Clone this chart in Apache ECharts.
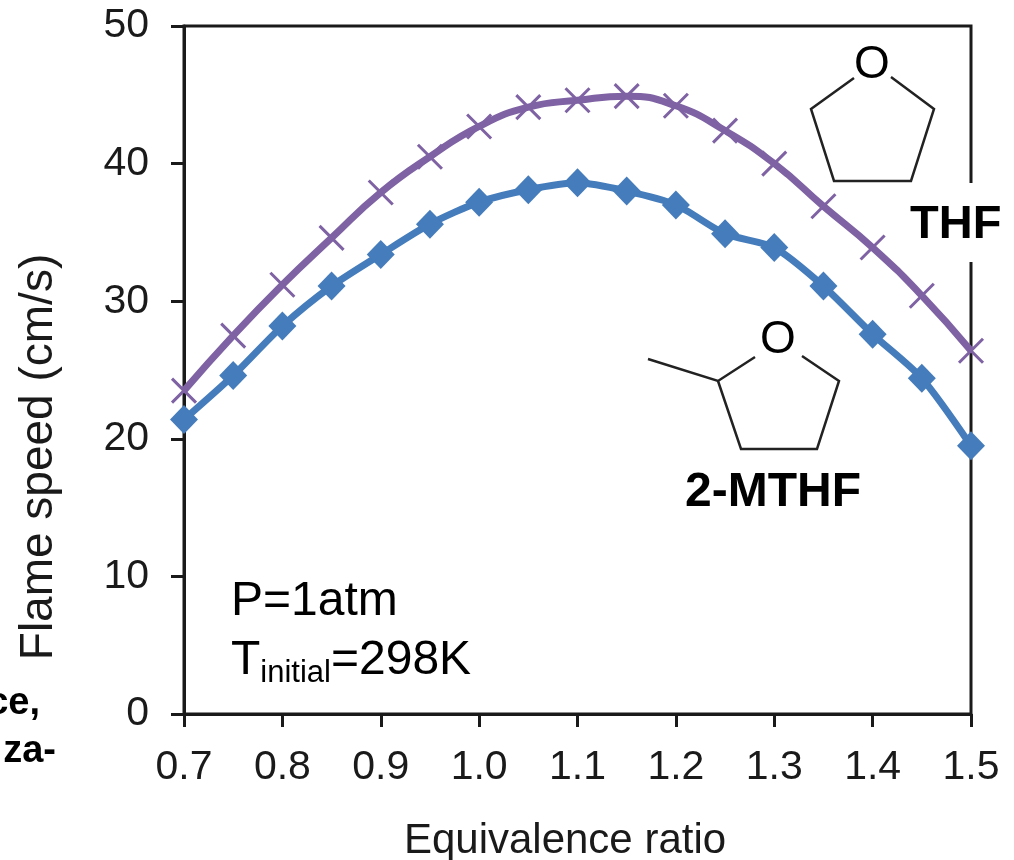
<!DOCTYPE html>
<html><head><meta charset="utf-8">
<style>html,body{margin:0;padding:0;background:#fff}#c{width:1014px;height:860px}</style>
<script src="https://cdn.jsdelivr.net/npm/echarts@6/dist/echarts.min.js"></script>
</head><body><div id="c"></div>
<script>
const phi=[0.7,0.75,0.8,0.85,0.9,0.95,1.0,1.05,1.1,1.15,1.2,1.25,1.3,1.35,1.4,1.45,1.5];
const mthf=[21.4,24.6,28.2,31.1,33.4,35.6,37.2,38.1,38.6,38.0,37.0,34.9,33.9,31.1,27.6,24.4,19.5];
const thf=[23.5,27.5,31.2,34.6,37.9,40.5,42.7,44.1,44.6,44.9,44.2,42.4,40.0,36.9,33.9,30.4,26.4];
const FONT='"Liberation Sans",Arial,sans-serif';
const INK='#1a1a1a';
const zip=(xs,ys)=>xs.map((x,i)=>[x,ys[i]]);
function bond(points){return {type:'polyline',z:5,shape:{points},style:{fill:null,stroke:'#222',lineWidth:2.5,lineJoin:'miter'}};}
function txt(x,y,text,size,weight,extra){return {type:'text',z:20,x,y,style:Object.assign({text,font:(weight||'normal')+' '+size+'px '+FONT,fill:'#000',textVerticalAlign:'middle'},extra||{})};}
const chart=echarts.init(document.getElementById('c'),null,{renderer:'canvas'});
chart.setOption({
 animation:false,backgroundColor:'#fff',
 grid:{left:184,right:43,top:26,height:688,show:true,borderColor:INK,borderWidth:3,backgroundColor:'transparent',outerBoundsMode:'none'},
 xAxis:{type:'value',min:0.7,max:1.5,interval:0.1,
  name:'Equivalence ratio',nameLocation:'middle',nameGap:106,
  nameTextStyle:{fontFamily:FONT,fontSize:42,color:INK,padding:[0,25,0,0]},
  axisLine:{onZero:false,lineStyle:{color:INK,width:3}},
  axisTick:{show:true,length:13,lineStyle:{color:INK,width:3}},
  axisLabel:{fontFamily:FONT,fontSize:41,color:INK,margin:33,formatter:v=>v.toFixed(1)},
  splitLine:{show:false}},
 yAxis:{type:'value',min:0,max:50,interval:10,
  name:'Flame speed (cm/s)',nameLocation:'middle',nameGap:122,nameRotate:90,
  nameTextStyle:{fontFamily:FONT,fontSize:46,color:INK,padding:[0,174,0,0]},
  axisLine:{onZero:false,lineStyle:{color:INK,width:3}},
  axisTick:{show:true,length:13,lineStyle:{color:INK,width:3}},
  axisLabel:{fontFamily:FONT,fontSize:41,color:INK,margin:35,padding:[6,0,0,0]},
  splitLine:{show:false}},
 series:[
  {name:'THF',type:'line',data:zip(phi,thf),smooth:0.5,clip:false,z:3,
   lineStyle:{color:'#7e62a3',width:7},
   symbol:'path://M0 0L10 10M10 0L0 10',symbolSize:24,showSymbol:true,
   itemStyle:{color:'#7e62a3',borderColor:'#7e62a3',borderWidth:3}},
  {name:'2-MTHF',type:'line',data:zip(phi,mthf),smooth:0.25,clip:false,z:4,
   lineStyle:{color:'#457cbb',width:7},
   symbol:'diamond',symbolSize:[28,29],
   itemStyle:{color:'#457cbb',borderWidth:0}}
 ],
 graphic:[
  bond([[854,78],[811,109],[834,181],[911,181],[934,109],[891,77]]),
  txt(872,65,'O',46,'normal',{textAlign:'center'}),
  bond([[648,359],[718,381],[755,357]]),
  bond([[718,381],[741,449],[817,449],[839,381],[802,356]]),
  txt(778,340,'O',46,'normal',{textAlign:'center'}),
  {type:'rect',z:15,shape:{x:905,y:183,width:109,height:79},style:{fill:'#fff'}},
  txt(910,225,'THF',47,'bold'),
  txt(685,493,'2-MTHF',48,'bold'),
  txt(231,602,'P=1atm',48),
  {type:'text',z:20,x:231,y:661,style:{
    rich:{a:{font:'48px '+FONT,fill:'#000',lineHeight:60,verticalAlign:'middle'},
          b:{font:'31px '+FONT,fill:'#000',lineHeight:60,padding:[24,0,0,0],verticalAlign:'middle'}},
    text:'{a|T}{b|initial}{a|=298K}',textVerticalAlign:'middle'}},
  txt(40,704,'ce,',38,'bold',{textAlign:'right'}),
  txt(56,752,'za-',38,'bold',{textAlign:'right'})
 ]
});
</script></body></html>
